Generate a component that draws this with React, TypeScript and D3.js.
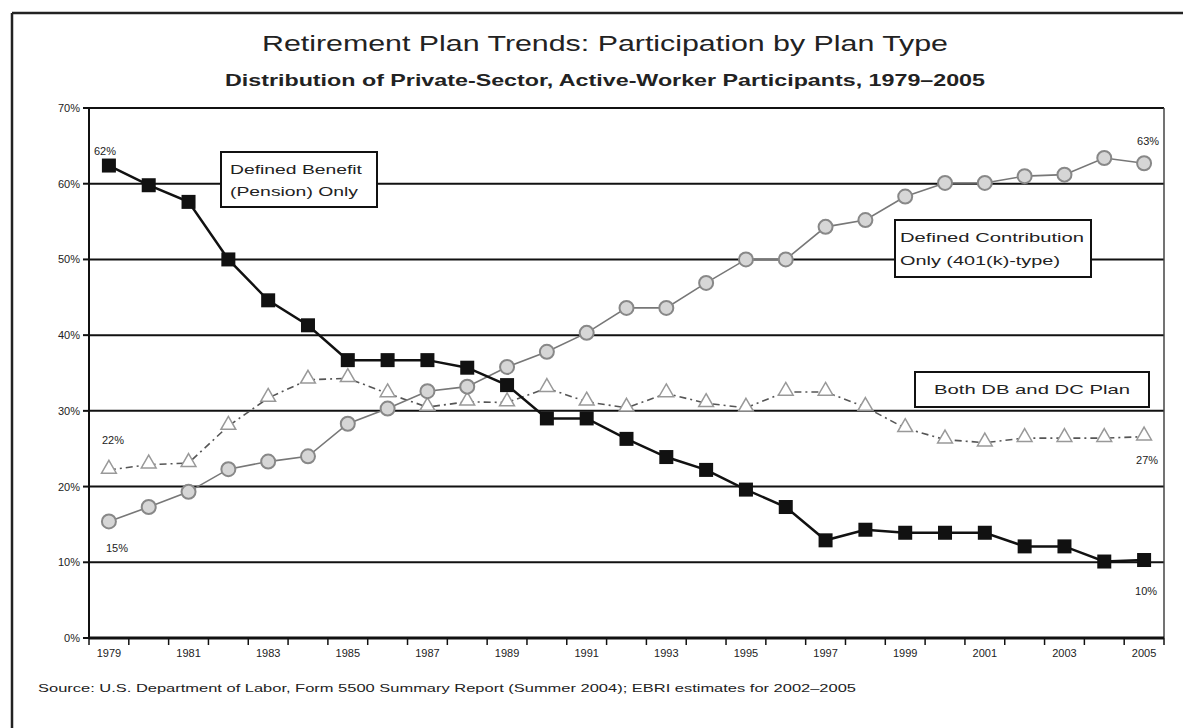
import React from "react";
import * as d3 from "d3";

const years = ["1979","1980","1981","1982","1983","1984","1985","1986","1987","1988","1989","1990","1991","1992","1993","1994","1995","1996","1997","1998","1999","2000","2001","2002","2003","2004","2005"];
const dbOnly = [62.4, 59.8, 57.6, 50, 44.6, 41.3, 36.7, 36.7, 36.7, 35.7, 33.4, 29, 29, 26.3, 23.9, 22.2, 19.6, 17.3, 12.9, 14.3, 13.9, 13.9, 13.9, 12.1, 12.1, 10.1, 10.3];
const dcOnly = [15.4, 17.3, 19.3, 22.3, 23.3, 24, 28.3, 30.3, 32.6, 33.2, 35.8, 37.8, 40.3, 43.6, 43.6, 46.9, 50, 50, 54.3, 55.2, 58.3, 60.1, 60.1, 61, 61.2, 63.4, 62.7];
const bothPlans = [22.2, 22.9, 23.1, 28, 31.7, 34.1, 34.3, 32.3, 30.5, 31.2, 31.1, 33, 31.2, 30.4, 32.3, 31, 30.4, 32.5, 32.5, 30.5, 27.7, 26.2, 25.8, 26.4, 26.4, 26.4, 26.6];
const yTicks = [0, 10, 20, 30, 40, 50, 60, 70];
const xLabelYears = ["1979","1981","1983","1985","1987","1989","1991","1993","1995","1997","1999","2001","2003","2005"];
const title = "Retirement Plan Trends: Participation by Plan Type";
const subtitle = "Distribution of Private-Sector, Active-Worker Participants, 1979\u20132005";
const source = "Source: U.S. Department of Labor, Form 5500 Summary Report (Summer 2004); EBRI estimates for 2002\u20132005";

const FONT = "'Liberation Sans', Arial, sans-serif";

export default function App() {
  const left = 89, right = 1164, top = 108, bottom = 638;
  const x = d3.scaleBand<string>().domain(years).range([left, right]).paddingInner(0).paddingOuter(0);
  const y = d3.scaleLinear().domain([0, 70]).range([bottom, top]);
  const cx = (yr: string) => (x(yr) as number) + x.bandwidth() / 2;

  const line = (vals: number[]) =>
    d3.line<number>().x((_, i) => cx(years[i])).y((v) => y(v))(vals) as string;

  const tri = d3.symbol().type(d3.symbolTriangle).size(95)() as string;

  const boundaries = d3.range(years.length + 1).map((i) => left + i * x.bandwidth());

  const last = years.length - 1;

  return (
    <svg width={1183} height={728} style={{ position: "absolute", left: 0, top: 0, display: "block", background: "#fff" }} fontFamily={FONT}>
      <rect x={0} y={0} width={1183} height={728} fill="#fff" />
      {/* outer frame */}
      <line x1={12} y1={13} x2={1183} y2={13} stroke="#222" strokeWidth={2.5} />
      <line x1={12} y1={13} x2={12} y2={728} stroke="#222" strokeWidth={2.5} />

      {/* titles */}
      <text x={605} y={51} textAnchor="middle" fontSize={22} fill="#222" textLength={686} lengthAdjust="spacingAndGlyphs">{title}</text>
      <text x={605} y={86} textAnchor="middle" fontSize={17} fontWeight="bold" fill="#222" textLength={760} lengthAdjust="spacingAndGlyphs">{subtitle}</text>

      {/* gridlines */}
      {yTicks.filter((t) => t > 0).map((t) => (
        <line key={"g" + t} x1={left} x2={right} y1={y(t)} y2={y(t)} stroke="#111" strokeWidth={2} />
      ))}
      <line x1={right} x2={right} y1={top} y2={bottom} stroke="#444" strokeWidth={1.5} />
      {/* y axis */}
      <line x1={left} x2={left} y1={top} y2={bottom} stroke="#111" strokeWidth={2} />
      {yTicks.map((t) => (
        <g key={"yt" + t}>
          <line x1={left - 6} x2={left} y1={y(t)} y2={y(t)} stroke="#111" strokeWidth={2} />
          <text x={left - 9} y={y(t) + 4} textAnchor="end" fontSize={11} fill="#222">{t + "%"}</text>
        </g>
      ))}
      {/* x axis */}
      <line x1={left} x2={right} y1={bottom} y2={bottom} stroke="#111" strokeWidth={3} />
      {boundaries.map((bx, i) => (
        <line key={"xt" + i} x1={bx} x2={bx} y1={bottom} y2={bottom + 7} stroke="#111" strokeWidth={1.5} />
      ))}
      {xLabelYears.map((yr) => (
        <text key={"xl" + yr} x={cx(yr)} y={bottom + 19} textAnchor="middle" fontSize={11} fill="#222">{yr}</text>
      ))}

      {/* Both DB and DC series */}
      <path d={line(bothPlans)} fill="none" stroke="#555" strokeWidth={1.6} strokeDasharray="7,4,2,4" />
      {bothPlans.map((v, i) => (
        <path key={"b" + i} d={tri} transform={`translate(${cx(years[i])},${y(v) - 1})`} fill="#fff" stroke="#999" strokeWidth={1.5} />
      ))}

      {/* DC only series */}
      <path d={line(dcOnly)} fill="none" stroke="#777" strokeWidth={1.6} />
      {dcOnly.map((v, i) => (
        <circle key={"c" + i} cx={cx(years[i])} cy={y(v)} r={7} fill="#d6d6d6" stroke="#888" strokeWidth={2} />
      ))}

      {/* DB only series */}
      <path d={line(dbOnly)} fill="none" stroke="#111" strokeWidth={2.5} />
      {dbOnly.map((v, i) => (
        <rect key={"s" + i} x={cx(years[i]) - 7} y={y(v) - 7} width={14} height={14} fill="#111" />
      ))}

      {/* point labels */}
      <text x={cx(years[0]) - 4} y={y(dbOnly[0]) - 11} textAnchor="middle" fontSize={11} fill="#222">{Math.round(dbOnly[0]) + "%"}</text>
      <text x={cx(years[0]) + 4} y={y(bothPlans[0]) - 26} textAnchor="middle" fontSize={11} fill="#222">{Math.round(bothPlans[0]) + "%"}</text>
      <text x={cx(years[0]) + 8} y={y(dcOnly[0]) + 31} textAnchor="middle" fontSize={11} fill="#222">{Math.round(dcOnly[0]) + "%"}</text>
      <text x={cx(years[last]) + 4} y={y(dcOnly[last]) - 18} textAnchor="middle" fontSize={11} fill="#222">{Math.round(dcOnly[last]) + "%"}</text>
      <text x={cx(years[last]) + 3} y={y(bothPlans[last]) + 27} textAnchor="middle" fontSize={11} fill="#222">{Math.round(bothPlans[last]) + "%"}</text>
      <text x={cx(years[last]) + 2} y={y(dbOnly[last]) + 35} textAnchor="middle" fontSize={11} fill="#222">{Math.round(dbOnly[last]) + "%"}</text>

      {/* annotation boxes */}
      <rect x={221} y={152} width={156} height={55} fill="#fff" stroke="#111" strokeWidth={2} />
      <text x={230} y={174} fontSize={13} fill="#222" textLength={132} lengthAdjust="spacingAndGlyphs">Defined Benefit</text>
      <text x={230} y={196} fontSize={13} fill="#222" textLength={128} lengthAdjust="spacingAndGlyphs">(Pension) Only</text>

      <rect x={895} y={220} width={196} height={57} fill="#fff" stroke="#111" strokeWidth={2} />
      <text x={900} y={242} fontSize={13} fill="#222" textLength={184} lengthAdjust="spacingAndGlyphs">Defined Contribution</text>
      <text x={900} y={265} fontSize={13} fill="#222" textLength={160} lengthAdjust="spacingAndGlyphs">Only (401(k)-type)</text>

      <rect x={915} y={372} width={234} height={35} fill="#fff" stroke="#111" strokeWidth={2} />
      <text x={1032} y={394} textAnchor="middle" fontSize={13} fill="#222" textLength={196} lengthAdjust="spacingAndGlyphs">Both DB and DC Plan</text>

      {/* source */}
      <text x={38} y={692} fontSize={11} fill="#222" textLength={818} lengthAdjust="spacingAndGlyphs">{source}</text>
    </svg>
  );
}
